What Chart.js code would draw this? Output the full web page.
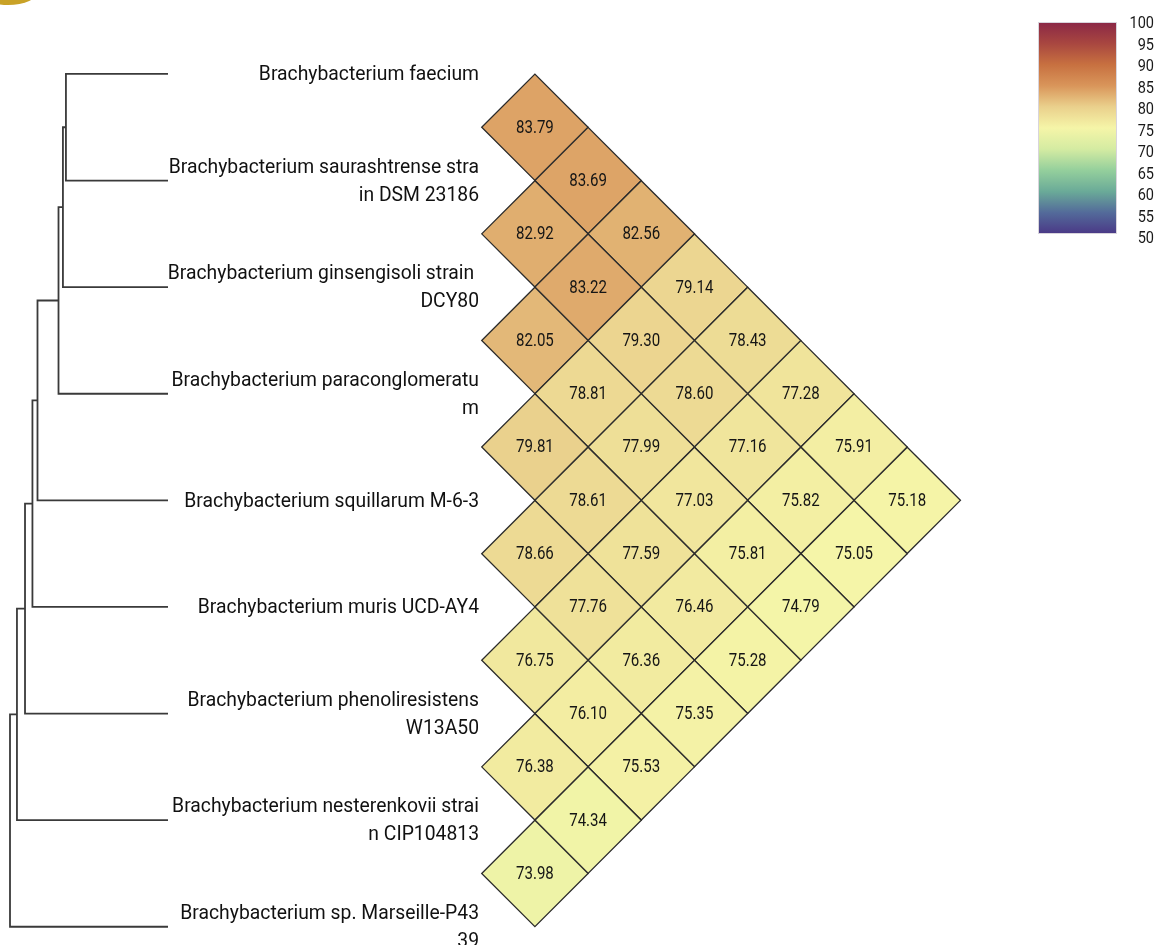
<!DOCTYPE html>
<html>
<head>
<meta charset="utf-8">
<title>ANI heatmap</title>
<script src="https://cdn.jsdelivr.net/npm/chart.js@4.4.1/dist/chart.umd.min.js"></script>
<style>
  html, body { margin: 0; padding: 0; background: #fff; }
  #wrap { width: 1158px; height: 945px; position: relative; }
</style>
</head>
<body>
<div id="wrap"><canvas id="myChart" width="1158" height="945"></canvas></div>
<script>
// species in tree order, split into lines as in the figure
var species = [
  ['Brachybacterium faecium'],
  ['Brachybacterium saurashtrense stra', 'in DSM 23186'],
  ['Brachybacterium ginsengisoli strain ', 'DCY80'],
  ['Brachybacterium paraconglomeratu', 'm'],
  ['Brachybacterium squillarum M-6-3'],
  ['Brachybacterium muris UCD-AY4'],
  ['Brachybacterium phenoliresistens', 'W13A50'],
  ['Brachybacterium nesterenkovii strai', 'n CIP104813'],
  ['Brachybacterium sp. Marseille-P43', '39']
];

// pairwise values [i, j, value]
var pairs = [
  [0,1,83.79],[0,2,83.69],[0,3,82.56],[0,4,79.14],[0,5,78.43],[0,6,77.28],[0,7,75.91],[0,8,75.18],
  [1,2,82.92],[1,3,83.22],[1,4,79.30],[1,5,78.60],[1,6,77.16],[1,7,75.82],[1,8,75.05],
  [2,3,82.05],[2,4,78.81],[2,5,77.99],[2,6,77.03],[2,7,75.81],[2,8,74.79],
  [3,4,79.81],[3,5,78.61],[3,6,77.59],[3,7,76.46],[3,8,75.28],
  [4,5,78.66],[4,6,77.76],[4,7,76.36],[4,8,75.35],
  [5,6,76.75],[5,7,76.10],[5,8,75.53],
  [6,7,76.38],[6,8,74.34],
  [7,8,73.98]
];

// dendrogram merges: [child a, child b, height]; leaves are 0..8, new nodes get 9, 10, ...
var merges = [
  [0, 1, 0.646],
  [9, 2, 0.665],
  [10, 3, 0.693],
  [11, 4, 0.826],
  [12, 5, 0.858],
  [13, 6, 0.905],
  [14, 7, 0.956],
  [15, 8, 1.0]
];

var colorTicks = [100, 95, 90, 85, 80, 75, 70, 65, 60, 55, 50];
var colorStops = [
  [50, '#4a3886'], [55, '#536a9a'], [60, '#6aaa98'], [65, '#94cf9c'], [70, '#d4eba2'],
  [75, '#f5f5a8'], [80, '#ead08c'], [85, '#d9955a'], [90, '#c77040'], [95, '#a84640'], [100, '#8a2746']
];

function hexRgb(h) {
  return [parseInt(h.substr(1,2),16), parseInt(h.substr(3,2),16), parseInt(h.substr(5,2),16)];
}
function valueColor(v) {
  if (v <= colorStops[0][0]) return colorStops[0][1];
  for (var k = 1; k < colorStops.length; k++) {
    if (v <= colorStops[k][0]) {
      var a = colorStops[k-1], b = colorStops[k];
      var t = (v - a[0]) / (b[0] - a[0]);
      var ca = hexRgb(a[1]), cb = hexRgb(b[1]);
      var c = ca.map(function(x, n){ return Math.round(x + (cb[n] - x) * t); });
      return 'rgb(' + c.join(',') + ')';
    }
  }
  return colorStops[colorStops.length-1][1];
}

// cells: x = distance between the two leaves, y = midpoint between them
var cells = pairs.map(function(p){
  return { x: p[1] - p[0], y: (p[0] + p[1]) / 2, v: p[2] };
});

// tree: one elbow path per merge
var nodeY = species.map(function(s, i){ return i; });
var nodeH = species.map(function(){ return 0; });
var treeSets = merges.map(function(m){
  var a = m[0], b = m[1], h = m[2];
  var pts = [
    {x: nodeH[a], y: nodeY[a]}, {x: h, y: nodeY[a]},
    {x: h, y: nodeY[b]}, {x: nodeH[b], y: nodeY[b]}
  ];
  nodeY.push((nodeY[a] + nodeY[b]) / 2);
  nodeH.push(h);
  return {
    type: 'scatter', data: pts, xAxisID: 'xt', yAxisID: 'y',
    showLine: true, borderColor: '#3a3a3a', borderWidth: 1.8,
    pointRadius: 0, tension: 0, clip: false
  };
});

function cellRadius(c) {
  var s = c.chart.scales.x;
  return Math.abs(s.getPixelForValue(1) - s.getPixelForValue(0));
}

var heatSet = {
  type: 'scatter', data: cells, xAxisID: 'x', yAxisID: 'y',
  pointStyle: 'rectRot',
  pointRadius: cellRadius,
  pointHoverRadius: cellRadius,
  backgroundColor: function(c){ return c.raw ? valueColor(c.raw.v) : '#fff'; },
  borderColor: '#2b2b2b', borderWidth: 1.3, clip: false
};

var cellText = {
  id: 'cellText',
  afterDatasetsDraw: function(chart) {
    var ctx = chart.ctx;
    var meta = chart.getDatasetMeta(treeSets.length);
    ctx.save();
    ctx.fillStyle = '#151515';
    ctx.font = '17.5px Roboto';
    ctx.textAlign = 'center';
    ctx.textBaseline = 'middle';
    meta.data.forEach(function(el, k){
      ctx.save();
      ctx.translate(el.x, el.y + 1);
      ctx.scale(0.86, 1);
      ctx.fillText(cells[k].v.toFixed(2), 0, 0);
      ctx.restore();
    });
    ctx.restore();
  }
};

var leafLabels = {
  id: 'leafLabels',
  afterDraw: function(chart) {
    var ctx = chart.ctx, y = chart.scales.y;
    ctx.save();
    ctx.fillStyle = '#111';
    ctx.font = '21px Roboto';
    ctx.textAlign = 'right';
    ctx.textBaseline = 'middle';
    species.forEach(function(lines, i){
      var cy = y.getPixelForValue(i);
      var top = cy - (lines.length - 1) * 14 + 1;
      lines.forEach(function(t, k){
        ctx.save();
        ctx.translate(479, top + k * 28);
        ctx.scale(0.92, 1);
        ctx.fillText(t, 0, 0);
        ctx.restore();
      });
    });
    ctx.restore();
  }
};

// colour key, top right
var colorBar = {
  id: 'colorBar',
  afterDraw: function(chart) {
    var ctx = chart.ctx;
    var x0 = 1038, x1 = 1117, y0 = 22, y1 = 234;
    var lo = colorStops[0][0], hi = colorStops[colorStops.length-1][0];
    var g = ctx.createLinearGradient(0, y1, 0, y0);
    colorStops.forEach(function(s){ g.addColorStop((s[0] - lo) / (hi - lo), s[1]); });
    ctx.save();
    ctx.fillStyle = g;
    ctx.fillRect(x0, y0, x1 - x0, y1 - y0);
    ctx.strokeStyle = '#d8d4dc';
    ctx.lineWidth = 1;
    ctx.strokeRect(x0 + 0.5, y0 + 0.5, x1 - x0 - 1, y1 - y0 - 1);
    ctx.fillStyle = '#1a1a1a';
    ctx.font = '16.5px Roboto';
    ctx.textAlign = 'right';
    ctx.textBaseline = 'middle';
    colorTicks.forEach(function(v){
      var ty = 24 + (hi - v) / (hi - lo) * (239 - 24);
      ctx.save();
      ctx.translate(1154, ty);
      ctx.scale(0.88, 1);
      ctx.fillText(String(v), 0, 0);
      ctx.restore();
    });
    // cropped gold mark in the top-left corner of the figure
    ctx.fillStyle = '#c9a227';
    ctx.beginPath();
    ctx.ellipse(8, -9, 30, 14, 0, 0, Math.PI * 2);
    ctx.fill();
    ctx.restore();
  }
};

var ctx = document.getElementById('myChart').getContext('2d');
var chart = new Chart(ctx, {
  type: 'scatter',
  data: { datasets: treeSets.concat([heatSet]) },
  options: {
    responsive: false,
    animation: false,
    events: [],
    layout: { padding: { left: 3, right: 38, top: 10, bottom: 0 } },
    plugins: { legend: { display: false }, tooltip: { enabled: false } },
    scales: {
      x: { type: 'linear', display: false, min: -9, max: 12 },
      xt: { type: 'linear', display: false, reverse: true, min: -6.0253, max: 1.0443 },
      y: { type: 'linear', display: false, reverse: true, min: -0.6, max: 8.171 }
    }
  },
  plugins: [cellText, leafLabels, colorBar]
});
</script>
</body>
</html>
